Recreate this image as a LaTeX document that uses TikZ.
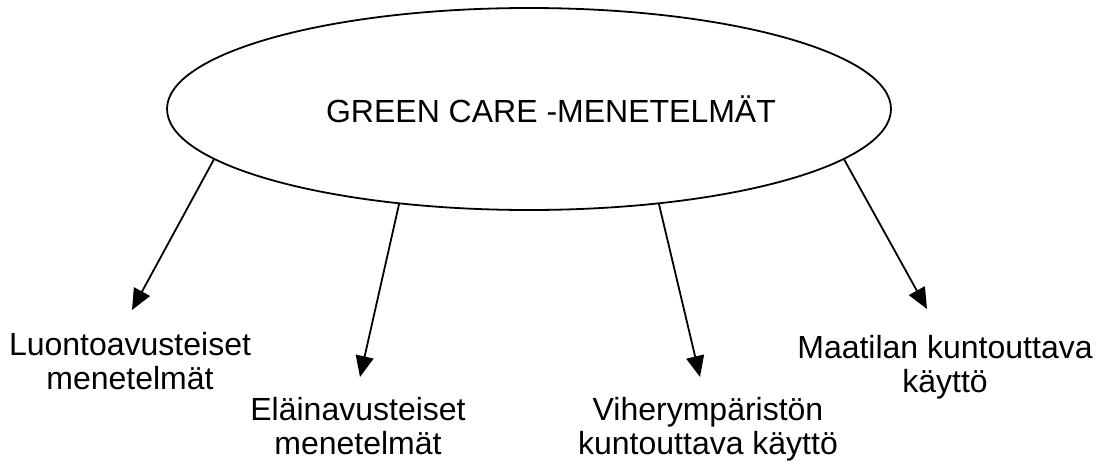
\documentclass[tikz,border=0pt]{standalone}
\usepackage{fontspec}
\setmainfont{Liberation Sans}
\usetikzlibrary{shapes.geometric,arrows.meta}

\begin{document}
\begin{tikzpicture}[x=1pt,y=-1pt,
  every node/.style={font=\fontsize{32}{34}\selectfont},
  oval/.style={draw,ellipse,line width=1.8pt,minimum width=724pt,minimum height=202pt,inner sep=0pt,outer sep=0pt},
  lbl/.style={anchor=north,align=center,inner sep=0pt},
  arr/.style={line width=1.8pt,-{Triangle[length=21pt,width=18pt]}}]
\useasboundingbox (0,0) rectangle (1105,461);
\node[oval] (green) at (529,109) {};
\node[anchor=base,inner sep=0pt] (greentext) at (551,122) {GREEN CARE -MENETELMÄT};
\node[lbl] (luonto) at (130,332) {Luontoavusteiset\\menetelmät};
\node[lbl] (elain) at (358,397) {Eläinavusteiset\\menetelmät};
\node[lbl] (viher) at (708,397) {Viherympäristön\\kuntouttava käyttö};
\node[lbl] (maatila) at (945,335) {Maatilan kuntouttava\\käyttö};
\coordinate (tip1) at (132,310);
\coordinate (tip2) at (360,377);
\coordinate (tip3) at (700,377);
\coordinate (tip4) at (927,309);
\draw[arr] (green.189) -- (tip1);
\draw[arr] (green.216) -- (tip2);
\draw[arr] (green.324) -- (tip3);
\draw[arr] (green.351) -- (tip4);
\end{tikzpicture}
\end{document}
